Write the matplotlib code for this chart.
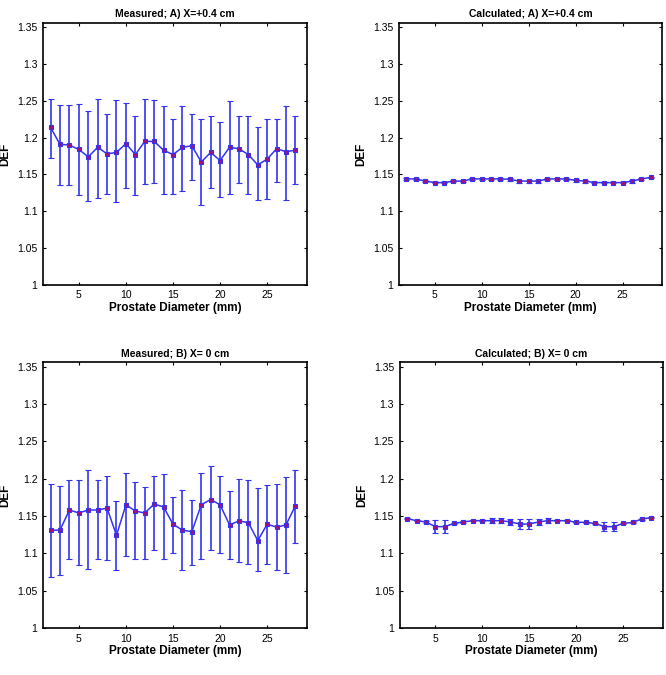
import numpy as np
import matplotlib
matplotlib.use('Agg')
import matplotlib.pyplot as plt
from matplotlib.ticker import FuncFormatter

plt.rcParams['font.family'] = ['Liberation Sans', 'DejaVu Sans']

diam = np.arange(2, 29)

# Measured, A) X=+0.4 cm
meas_a = [1.214, 1.191, 1.190, 1.184, 1.174, 1.187, 1.178, 1.180, 1.192, 1.177,
          1.195, 1.195, 1.183, 1.177, 1.187, 1.189, 1.167, 1.180, 1.169, 1.187,
          1.185, 1.177, 1.163, 1.171, 1.185, 1.181, 1.183]
meas_a_hi = [1.253, 1.244, 1.244, 1.246, 1.236, 1.252, 1.232, 1.251, 1.247, 1.230,
             1.253, 1.251, 1.243, 1.225, 1.243, 1.232, 1.225, 1.230, 1.222, 1.250,
             1.230, 1.230, 1.214, 1.225, 1.225, 1.243, 1.230]
meas_a_lo = [1.172, 1.136, 1.136, 1.122, 1.114, 1.118, 1.123, 1.113, 1.132, 1.122,
             1.137, 1.138, 1.124, 1.124, 1.128, 1.143, 1.109, 1.131, 1.119, 1.124,
             1.138, 1.123, 1.115, 1.117, 1.140, 1.116, 1.137]

# Calculated, A) X=+0.4 cm
calc_a = [1.144, 1.144, 1.141, 1.139, 1.139, 1.141, 1.141, 1.144, 1.144, 1.144,
          1.144, 1.1435, 1.141, 1.141, 1.141, 1.144, 1.144, 1.144, 1.142, 1.141,
          1.139, 1.139, 1.139, 1.139, 1.141, 1.144, 1.146]
calc_a_err = [0.001, 0.001, 0.001, 0.001, 0.001, 0.001, 0.001, 0.001, 0.001, 0.001,
              0.001, 0.002, 0.002, 0.002, 0.002, 0.001, 0.001, 0.001, 0.002, 0.002,
              0.001, 0.001, 0.001, 0.001, 0.002, 0.001, 0.001]

# Measured, B) X=0 cm
meas_b = [1.131, 1.131, 1.158, 1.154, 1.158, 1.158, 1.1605, 1.124, 1.165, 1.1565,
          1.154, 1.166, 1.162, 1.139, 1.131, 1.129, 1.165, 1.172, 1.165, 1.138,
          1.1434, 1.141, 1.117, 1.139, 1.135, 1.138, 1.164]
meas_b_hi = [1.193, 1.190, 1.1975, 1.1975, 1.2115, 1.1975, 1.204, 1.170, 1.207, 1.196,
             1.189, 1.204, 1.206, 1.176, 1.185, 1.171, 1.207, 1.217, 1.204, 1.183,
             1.199, 1.1975, 1.187, 1.192, 1.193, 1.2025, 1.211]
meas_b_lo = [1.068, 1.071, 1.093, 1.084, 1.079, 1.092, 1.091, 1.078, 1.097, 1.092,
             1.092, 1.104, 1.092, 1.101, 1.077, 1.085, 1.093, 1.105, 1.101, 1.093,
             1.089, 1.086, 1.076, 1.086, 1.078, 1.073, 1.114]

# Calculated, B) X=0 cm
calc_b = [1.1464, 1.1437, 1.142, 1.1357, 1.1357, 1.140, 1.142, 1.1437, 1.1437, 1.1437,
          1.1437, 1.142, 1.1392, 1.1392, 1.142, 1.1437, 1.1437, 1.1437, 1.1415, 1.1415,
          1.140, 1.1357, 1.1357, 1.140, 1.1415, 1.146, 1.1478]
calc_b_err = [0.001, 0.001, 0.001, 0.0085, 0.0085, 0.001, 0.001, 0.001, 0.001, 0.003,
              0.003, 0.004, 0.007, 0.007, 0.004, 0.003, 0.001, 0.001, 0.001, 0.001,
              0.001, 0.006, 0.006, 0.001, 0.001, 0.001, 0.001]

panels = [
    ('Measured; A) X=+0.4 cm', meas_a, [np.array(meas_a) - meas_a_lo, np.array(meas_a_hi) - meas_a],
     [0.0646, 0.578, 0.396, 0.388]),
    ('Calculated; A) X=+0.4 cm', calc_a, calc_a_err, [0.599, 0.578, 0.395, 0.388]),
    ('Measured; B) X= 0 cm', meas_b, [np.array(meas_b) - meas_b_lo, np.array(meas_b_hi) - meas_b],
     [0.0646, 0.0696, 0.396, 0.394]),
    ('Calculated; B) X= 0 cm', calc_b, calc_b_err, [0.600, 0.0696, 0.395, 0.394]),
]

fig = plt.figure(figsize=(6.66, 6.75), dpi=100)
for title, y, err, pos in panels:
    ax = fig.add_axes(pos)
    ax.errorbar(diam, y, yerr=err, color='#3434f0', lw=1.1, elinewidth=1.2, capsize=2.5, capthick=1.2,
                marker='s', ms=3.5, mfc='#a0107a', mec='#3434f0', mew=0.8)
    ax.set_xlim(1.2, 29.2)
    ax.set_ylim(1, 1.356)
    ax.set_xticks([5, 10, 15, 20, 25])
    ax.set_yticks(np.arange(1, 1.351, 0.05))
    ax.yaxis.set_major_formatter(FuncFormatter(lambda v, p: '%g' % round(v, 2)))
    ax.tick_params(direction='in', top=True, right=True, labelsize=7.5, length=2.5, width=0.8, pad=4)
    for s in ax.spines.values():
        s.set_linewidth(1.2)
    ax.set_title(title, fontsize=7.5, fontweight='bold', pad=4)
    ax.set_xlabel('Prostate Diameter (mm)', fontsize=8.5, fontweight='bold', labelpad=1)
    ax.set_ylabel('DEF', fontsize=8.5, fontweight='bold', labelpad=4)

fig.savefig('out.png', dpi=100)
